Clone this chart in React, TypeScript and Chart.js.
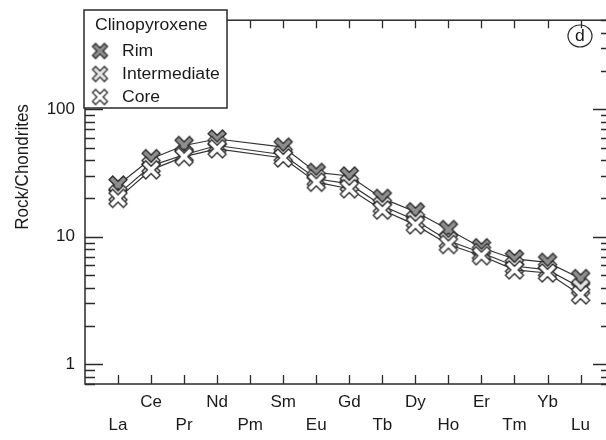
import React, { useEffect, useRef } from 'react';
import { Chart, registerables } from 'chart.js';

Chart.register(...registerables);

const elements = ['La', 'Ce', 'Pr', 'Nd', 'Pm', 'Sm', 'Eu', 'Gd', 'Tb', 'Dy', 'Ho', 'Er', 'Tm', 'Yb', 'Lu'];
const rim = [25.5, 41, 52, 58.5, null, 50.5, 32, 30, 20, 15.7, 11.4, 8.2, 6.7, 6.3, 4.7];
const intermediate = [21.5, 36, 44, 52, null, 44, 28.5, 26, 17.5, 13.5, 9.3, 7.5, 5.9, 5.5, 4.0];
const core = [20, 33.5, 42.5, 49, null, 41.5, 26.8, 23.8, 16.2, 12.4, 8.7, 7.1, 5.5, 5.2, 3.5];
const yTickValues = [1, 10, 100];
const seriesNames = ['Rim', 'Intermediate', 'Core'];
const legendTitle = 'Clinopyroxene';
const panelLetter = 'd';
const yTitle = 'Rock/Chondrites';

const FONT = '"Liberation Sans", Arial, sans-serif';
const INK = '#2a2a2a';
const TEXT = '#1a1a1a';

function makeX(fill: string, half: number, arm: number): HTMLCanvasElement {
  const size = Math.ceil(half * 2 + 4);
  const c = document.createElement('canvas');
  c.width = size;
  c.height = size;
  const ctx = c.getContext('2d')!;
  ctx.translate(size / 2, size / 2);
  ctx.rotate(Math.PI / 4);
  const a = arm;
  const L = half * Math.SQRT2 - arm;
  const pts = [
    [a, L], [a, a], [L, a], [L, -a], [a, -a], [a, -L],
    [-a, -L], [-a, -a], [-L, -a], [-L, a], [-a, a], [-a, L],
  ];
  ctx.beginPath();
  pts.forEach(([x, y], i) => (i === 0 ? ctx.moveTo(x, y) : ctx.lineTo(x, y)));
  ctx.closePath();
  ctx.fillStyle = fill;
  ctx.fill();
  ctx.lineWidth = 1.3;
  ctx.strokeStyle = INK;
  ctx.lineJoin = 'miter';
  ctx.stroke();
  return c;
}

const fills = ['#8e8e8e', '#e4e4e4', '#ffffff'];
const pointImgs = fills.map((f) => makeX(f, 9, 2.6));
const legendImgs = fills.map((f) => makeX(f, 7.5, 2.2));

const toPoints = (arr: (number | null)[]) =>
  arr.map((v, i) => (v == null ? null : { x: i, y: v })).filter((p) => p !== null) as { x: number; y: number }[];

function stretchedText(ctx: CanvasRenderingContext2D, text: string, x: number, y: number, sx: number) {
  ctx.save();
  ctx.translate(x, y);
  ctx.scale(sx, 1);
  ctx.fillText(text, 0, 0);
  ctx.restore();
}

const framePlugin = {
  id: 'framePlugin',
  afterDraw(chart: any) {
    const { ctx, chartArea, scales } = chart;
    const { left, right, top, bottom } = chartArea;
    const xs = scales.x;
    const ys = scales.y;
    ctx.save();
    ctx.strokeStyle = INK;
    ctx.lineWidth = 1.5;
    ctx.strokeRect(left, top, right - left, bottom - top);
    ctx.lineWidth = 1.3;
    // y ticks (inward)
    for (let k = -1; k <= 3; k++) {
      for (let m = 1; m <= 9; m++) {
        const v = m * Math.pow(10, k);
        if (v < ys.min || v > ys.max) continue;
        const py = Math.round(ys.getPixelForValue(v)) + 0.5;
        const major = m === 1;
        ctx.beginPath();
        ctx.moveTo(left, py);
        ctx.lineTo(left + (major ? 18 : 10), py);
        ctx.moveTo(right, py);
        ctx.lineTo(right - (major ? 14 : 6), py);
        ctx.stroke();
      }
    }
    // x ticks (inward)
    elements.forEach((_, i) => {
      const px = Math.round(xs.getPixelForValue(i)) + 0.5;
      ctx.beginPath();
      ctx.moveTo(px, bottom);
      ctx.lineTo(px, bottom - 9);
      ctx.moveTo(px, top);
      ctx.lineTo(px, top + 8);
      ctx.stroke();
    });
    // y title
    ctx.fillStyle = TEXT;
    ctx.font = `17px ${FONT}`;
    ctx.textAlign = 'center';
    ctx.textBaseline = 'middle';
    ctx.save();
    ctx.translate(23, 167);
    ctx.rotate(-Math.PI / 2);
    ctx.scale(1, 1.05);
    ctx.fillText(yTitle, 0, 0);
    ctx.restore();
    // panel letter
    ctx.lineWidth = 1.2;
    ctx.beginPath();
    ctx.ellipse(580, 36, 12, 11, 0, 0, Math.PI * 2);
    ctx.stroke();
    ctx.font = `16px ${FONT}`;
    stretchedText(ctx, panelLetter, 580, 37, 1.1);
    // legend
    const bx = 84, by = 10, bw = 143, bh = 98;
    ctx.fillStyle = '#fff';
    ctx.fillRect(bx, by, bw, bh);
    ctx.lineWidth = 1.5;
    ctx.strokeRect(bx, by, bw, bh);
    ctx.fillStyle = TEXT;
    ctx.textAlign = 'left';
    ctx.font = `16px ${FONT}`;
    stretchedText(ctx, legendTitle, 95, 26, 1.1);
    const rows = [51, 74, 97];
    chart.data.datasets.forEach((ds: any, i: number) => {
      const img = legendImgs[i];
      ctx.drawImage(img, 100 - img.width / 2, rows[i] - img.height / 2);
      ctx.fillStyle = TEXT;
      stretchedText(ctx, ds.label, 122, rows[i] + 1, 1.1);
    });
    ctx.restore();
  },
};

export default function App() {
  const ref = useRef<HTMLCanvasElement>(null);
  useEffect(() => {
    if (!ref.current) return;
    const series = [rim, intermediate, core];
    const chart = new Chart(ref.current, {
      type: 'line',
      data: {
        datasets: series.map((s, i) => ({
          label: seriesNames[i],
          data: toPoints(s),
          borderColor: '#333',
          borderWidth: 1.2,
          pointStyle: pointImgs[i] as any,
          pointRadius: 9,
          order: 3 - i,
          tension: 0,
        })),
      },
      options: {
        responsive: false,
        animation: false,
        layout: { padding: { top: 10, right: 13, left: 0, bottom: 0 } },
        plugins: { legend: { display: false }, tooltip: { enabled: false } },
        scales: {
          x: {
            type: 'linear',
            min: -1,
            max: 14.8,
            afterBuildTicks: (s: any) => {
              s.ticks = elements.map((_, i) => ({ value: i }));
            },
            afterFit: (s: any) => {
              s.height = 56;
            },
            grid: { display: false, drawTicks: false },
            border: { display: false },
            ticks: {
              autoSkip: false,
              maxRotation: 0,
              minRotation: 0,
              padding: 7,
              color: TEXT,
              font: { family: FONT, size: 17, lineHeight: 1.35 },
              callback: (v: any) => {
                const i = Math.round(Number(v));
                const name = elements[i] ?? '';
                return i % 2 === 0 ? ['', name] : [name, ''];
              },
            },
          },
          y: {
            type: 'logarithmic',
            min: 0.7,
            max: 500,
            afterBuildTicks: (s: any) => {
              s.ticks = yTickValues.map((v) => ({ value: v, major: true }));
            },
            afterFit: (s: any) => {
              s.width = 85;
            },
            grid: { display: false, drawTicks: false },
            border: { display: false },
            ticks: {
              padding: 10,
              color: TEXT,
              font: { family: FONT, size: 17 },
              callback: (v: any) => String(v),
            },
          },
        },
      },
      plugins: [framePlugin],
    });
    return () => chart.destroy();
  }, []);
  return (
    <div style={{ position: 'fixed', left: 0, top: 0, width: 606, height: 440, overflow: 'hidden', background: '#fff' }}>
      <canvas ref={ref} width={620} height={440} style={{ display: 'block' }} />
    </div>
  );
}
